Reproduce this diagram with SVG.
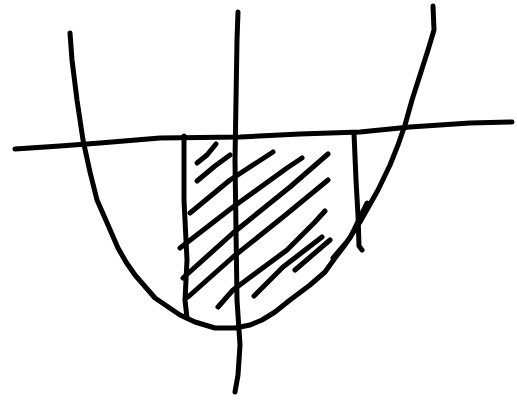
<svg xmlns="http://www.w3.org/2000/svg" width="517" height="401" viewBox="0 0 517 401">
<style>
.s{fill:none;stroke:#000;stroke-width:5;stroke-linecap:round;stroke-linejoin:round}
</style>
<rect width="517" height="401" fill="#fff"/>
<g id="curve">
<path class="s" d="M70,33 L72,60 L77,100 L83,140 L90,172 L97,200 L108,225 L118,248 L126,262 L135,275 L155,298 L180,315 L195,322 L215,328 L235,328 L250,325 L262,320 L275,312 L290,300 L310,285 L325,272 L335,258 L345,245 L360,222 L378,190 L390,165 L398,145 L405,125 L412,100 L420,75 L428,50 L434,30 L433,6"/>
</g>
<g id="axes">
<path class="s" d="M15,149 L60,146 L100,143 L160,138 L240,137 L300,134 L360,132 L410,127 L470,123 L512,122"/>
<path class="s" d="M238,12 L237,40 L236,100 L235,160 L236,230 L237,300 L240,345 L238,375 L235,392"/>
</g>
<g id="bounds">
<path class="s" d="M184,136 L184,200 L187,260 L185,300 L187,318"/>
<path class="s" d="M354,133 L356,180 L358,215 L359,246 L362,250"/>
</g>
<g id="hatch">
<path class="s" d="M197,163 L207,155 L216,144"/>
<path class="s" d="M197,181 L215,166 L230,155"/>
<path class="s" d="M190,213 L230,180 L273,152"/>
<path class="s" d="M180,248 L233,207 L287,168 L302,158"/>
<path class="s" d="M183,278 L233,233 L290,187 L328,154"/>
<path class="s" d="M188,297 L233,257 L283,217 L328,180"/>
<path class="s" d="M218,307 L233,290 L287,250 L314,223 L325,211"/>
<path class="s" d="M254,296 L283,267 L322,237"/>
<path class="s" d="M295,270 L330,240"/>
<path class="s" d="M333,258 L350,238 L367,203"/>
</g>
</svg>
